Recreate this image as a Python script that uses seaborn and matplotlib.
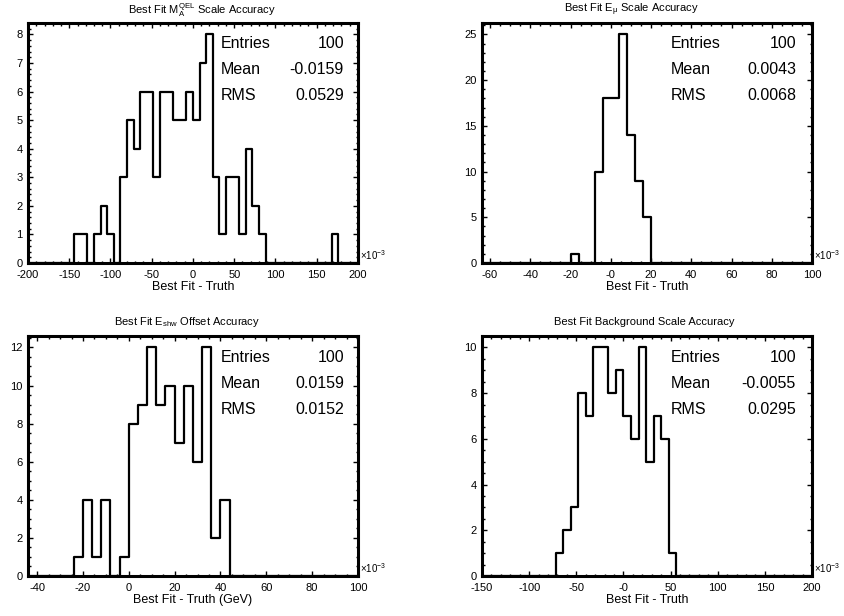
### Dependencies ---------------------------------------------------------------
import numpy as np
import pandas as pd
import matplotlib
matplotlib.use("Agg")
import matplotlib.pyplot as plt
from matplotlib.ticker import AutoMinorLocator, FixedLocator, FixedFormatter
import seaborn as sns

### Data (x values in units of 1e-3) ------------------------------------------
# counts per bin, starting at the first filled bin
mqel_start, mqel_width = -144, 8
mqel_counts = [1, 1, 0, 1, 2, 1, 0, 3, 5, 4, 6, 6, 3, 6, 6, 5, 5, 6, 5, 7, 8,
               3, 1, 3, 3, 1, 4, 2, 1, 0, 0, 0, 0, 0, 0, 0, 0, 0, 0, 1]

emu_start, emu_width = -20, 4
emu_counts = [1, 0, 0, 10, 18, 18, 25, 14, 9, 5]

eshw_start, eshw_width = -24, 4
eshw_counts = [1, 4, 1, 4, 0, 1, 8, 9, 12, 9, 10, 7, 10, 6, 12, 2, 4]

bkg_start, bkg_width = -72, 8
bkg_counts = [1, 2, 3, 8, 7, 10, 10, 8, 9, 7, 6, 10, 5, 7, 6, 1]

# tick labels as printed on the axes
mqel_xticks = [-200, -150, -100, -50, 0, 50, 100, 150, 200]
mqel_xlabels = ["-200", "-150", "-100", "-50", "0", "50", "100", "150", "200"]
emu_xticks = [-60, -40, -20, 0, 20, 40, 60, 80, 100]
emu_xlabels = ["-60", "-40", "-20", "-0", "20", "40", "60", "80", "100"]
eshw_xticks = [-40, -20, 0, 20, 40, 60, 80, 100]
eshw_xlabels = ["-40", "-20", "0", "20", "40", "60", "80", "100"]
bkg_xticks = [-150, -100, -50, 0, 50, 100, 150, 200]
bkg_xlabels = ["-150", "-100", "-50", "-0", "50", "100", "150", "200"]

titles = ["Best Fit M$_\\mathrm{A}^\\mathrm{QEL}$ Scale Accuracy",
          "Best Fit E$_\\mathrm{\\mu}$ Scale Accuracy",
          "Best Fit E$_\\mathrm{shw}$ Offset Accuracy",
          "Best Fit Background Scale Accuracy"]
xlabels = ["Best Fit - Truth", "Best Fit - Truth",
           "Best Fit - Truth (GeV)", "Best Fit - Truth"]
stat_entries = ["100", "100", "100", "100"]
stat_means = ["-0.0159", "0.0043", "0.0159", "-0.0055"]
stat_rms = ["0.0529", "0.0068", "0.0152", "0.0295"]

### Style ----------------------------------------------------------------------
sns.set_style("ticks")
plt.rcParams["font.family"] = ["Liberation Sans", "DejaVu Sans"]
plt.rcParams["mathtext.fontset"] = "custom"
plt.rcParams["mathtext.rm"] = "Liberation Sans"
plt.rcParams["mathtext.it"] = "Liberation Sans:italic"
for key in ["text.color", "axes.labelcolor", "axes.edgecolor",
            "xtick.color", "ytick.color"]:
    plt.rcParams[key] = "black"

W, H = 845, 616
fig = plt.figure(figsize=(W / 100, H / 100), dpi=100)


def fx(x):
    return x / W


def fy(y):
    return 1 - y / H


def draw_panel(ax, start, width, counts, lo, hi):
    df = pd.DataFrame({"x": start + width * (np.arange(len(counts)) + 0.5),
                       "n": counts})
    edges = np.arange(lo, hi + width / 2, width).tolist()
    sns.histplot(data=df, x="x", weights="n", bins=edges, element="step",
                 fill=False, color="black", linewidth=1.6, ax=ax)


# panel frames in pixels: left, top, right, bottom
frames = [(28, 23, 358, 263), (482, 23, 812, 263),
          (28, 336, 358, 576), (482, 336, 812, 576)]
hists = [(mqel_start, mqel_width, mqel_counts, -200, 200, (-200, 200)),
         (emu_start, emu_width, emu_counts, -64, 100, (-64, 100)),
         (eshw_start, eshw_width, eshw_counts, -44, 100, (-44, 100)),
         (bkg_start, bkg_width, bkg_counts, -152, 200, (-150, 200))]
xticks = [(mqel_xticks, mqel_xlabels), (emu_xticks, emu_xlabels),
          (eshw_xticks, eshw_xlabels), (bkg_xticks, bkg_xlabels)]
xminor = [5, 4, 4, 5]
yticks = [list(range(0, 9)), list(range(0, 26, 5)),
          list(range(0, 13, 2)), list(range(0, 11, 2))]
yminor = [5, 5, 4, 4]
title_pos = [(202, 10), (631, 10), (187, 322), (644, 322)]

for i in range(4):
    l, t, r, b = frames[i]
    ax = fig.add_axes([fx(l), fy(b), fx(r - l), (b - t) / H])
    start, width, counts, lo, hi, xlim = hists[i]
    draw_panel(ax, start, width, counts, lo, hi)

    ax.set_xlim(*xlim)
    ax.set_ylim(0, max(counts) * 1.05)
    ax.xaxis.set_major_locator(FixedLocator(xticks[i][0]))
    ax.xaxis.set_major_formatter(FixedFormatter(xticks[i][1]))
    ax.xaxis.set_minor_locator(AutoMinorLocator(xminor[i]))
    ax.set_yticks(yticks[i])
    ax.yaxis.set_minor_locator(AutoMinorLocator(yminor[i]))
    ax.tick_params(which="both", direction="in", top=True, right=True,
                   labelsize=8, width=1, colors="black")
    ax.tick_params(axis="x", which="both", pad=5)
    ax.tick_params(axis="y", which="both", pad=4)
    ax.tick_params(which="major", length=3.5)
    ax.tick_params(which="minor", length=1.8)
    for s in ax.spines.values():
        s.set_linewidth(2.2)
        s.set_color("black")
    ax.set_ylabel("")
    ax.set_xlabel(xlabels[i], fontsize=9, labelpad=1)

    # title and exponent
    fig.text(fx(title_pos[i][0]), fy(title_pos[i][1]), titles[i],
             fontsize=8, ha="center", va="center")
    fig.text(fx(r + 2), fy(b - 1), "\u00d710$^{-3}$", fontsize=7,
             ha="left", va="bottom")

    # stats box
    sx = l + 193 if i % 2 == 0 else l + 189
    ex = l + 316 if i % 2 == 0 else l + 314
    rows = [("Entries", stat_entries[i]), ("Mean", stat_means[i]),
            ("RMS", stat_rms[i])]
    for k, (name, val) in enumerate(rows):
        yy = t + 21 + k * 26
        fig.text(fx(sx), fy(yy), name, fontsize=11.5, ha="left", va="center")
        fig.text(fx(ex), fy(yy), val, fontsize=11.5, ha="right", va="center")

fig.savefig("out.png", dpi=100)
